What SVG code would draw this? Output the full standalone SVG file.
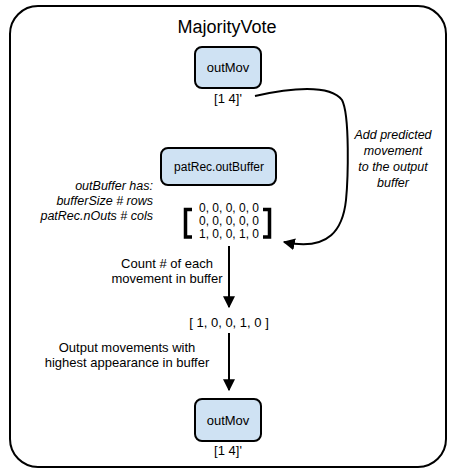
<svg xmlns="http://www.w3.org/2000/svg" width="449" height="471" viewBox="0 0 449 471">
<style>
text{font-family:"Liberation Sans",Arial,sans-serif;fill:#000;text-anchor:middle}
.t{font-size:13px}
.m{font-size:12px}
.it{font-size:12.5px;font-style:italic}
.box{fill:#cfe2f3;stroke:#000;stroke-width:2}
.ln{fill:none;stroke:#000;stroke-width:2}
</style>
<defs>
<marker id="ah" viewBox="0 0 10 10" refX="9" refY="5" markerWidth="12" markerHeight="12" markerUnits="userSpaceOnUse" orient="auto">
<path d="M0,0 L10,5 L0,10 z" fill="#000"/>
</marker>
</defs>
<rect x="10" y="6" width="436" height="461" rx="28" fill="#fff" stroke="#000" stroke-width="2"/>
<text x="227" y="33" style="font-size:18px">MajorityVote</text>

<g id="outMov-top">
<rect class="box" x="195" y="47" width="66" height="41" rx="7"/>
<text class="t" x="228" y="72">outMov</text>
<text class="t" x="228" y="103">[1 4]'</text>
</g>

<g id="patRec-outBuffer">
<rect class="box" x="161" y="148" width="115" height="37" rx="7"/>
<text x="219" y="171" style="font-size:12px">patRec.outBuffer</text>
</g>

<g id="buffer-note">
<text class="it" x="153" y="190" style="text-anchor:end">outBuffer has:</text>
<text class="it" x="153" y="205" style="text-anchor:end">bufferSize # rows</text>
<text class="it" x="153" y="220" style="text-anchor:end">patRec.nOuts # cols</text>
</g>

<g id="matrix">
<path d="M192,209.5 H185.5 V237 H192" fill="none" stroke="#000" stroke-width="3.5"/>
<path d="M263,209.5 H269.5 V237 H263" fill="none" stroke="#000" stroke-width="3.5"/>
<text class="m" x="229" y="212">0, 0, 0, 0, 0</text>
<text class="m" x="229" y="225">0, 0, 0, 0, 0</text>
<text class="m" x="229" y="238">1, 0, 0, 1, 0</text>
</g>

<g id="counts">
<text class="t" x="229" y="327">[ 1, 0, 0, 1, 0 ]</text>
</g>

<g id="outMov-bottom">
<rect class="box" x="195" y="399" width="66" height="42" rx="7"/>
<text class="t" x="228" y="425">outMov</text>
<text class="t" x="228" y="455">[1 4]'</text>
</g>

<g id="connectors">
<path class="ln" d="M255,96 C290,88 330,84 342,100 C350,115 348,180 346,200 C343,228 330,252 284,242" marker-end="url(#ah)"/>
<path class="ln" d="M229,246 V307" marker-end="url(#ah)"/>
<path class="ln" d="M229,333 V390" marker-end="url(#ah)"/>
<text class="it" x="393" y="139">Add predicted</text>
<text class="it" x="393" y="155">movement</text>
<text class="it" x="393" y="171">to the output</text>
<text class="it" x="393" y="187">buffer</text>
<text class="t" x="167" y="268">Count # of each</text>
<text class="t" x="167" y="283">movement in buffer</text>
<text class="t" x="127" y="352">Output movements with</text>
<text class="t" x="127" y="367">highest appearance in buffer</text>
</g>
</svg>
